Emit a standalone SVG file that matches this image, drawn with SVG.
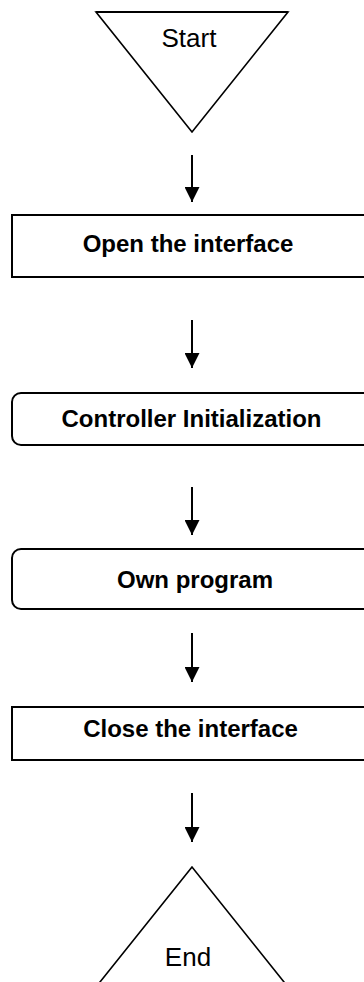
<svg xmlns="http://www.w3.org/2000/svg" width="364" height="982" viewBox="0 0 364 982">
<style>
.shape{fill:#fff;stroke:#000;stroke-width:2}
.tri{fill:#fff;stroke:#000;stroke-width:1.6}
.lbl{font-family:"Liberation Sans",Arial,sans-serif;font-size:24px;font-weight:bold;fill:#000;text-anchor:middle}
.term{font-family:"Liberation Sans",Arial,sans-serif;font-size:26px;fill:#000;text-anchor:middle}
.conn{stroke:#000;stroke-width:2;fill:none;marker-end:url(#ah)}
</style>
<defs>
<marker id="ah" markerWidth="15" markerHeight="15" refX="15" refY="7.5" orient="auto" markerUnits="userSpaceOnUse" viewBox="0 0 15 15">
<path d="M0,0 L15,7.5 L0,15 Z" fill="#000"/>
</marker>
</defs>
<rect width="364" height="982" fill="#fff"/>
<g id="start">
<polygon class="tri" points="96,12 288,12 192,132"/>
<line x1="96" y1="12" x2="288" y2="12" stroke="#000" stroke-width="2"/>
<text class="term" x="189" y="47">Start</text>
</g>
<g id="open">
<rect class="shape" x="12" y="215" width="370" height="62"/>
<text class="lbl" x="188" y="252">Open the interface</text>
</g>
<g id="init">
<rect class="shape" x="12" y="393" width="370" height="52" rx="9" ry="9"/>
<text class="lbl" x="191.5" y="427">Controller Initialization</text>
</g>
<g id="own">
<rect class="shape" x="12" y="549" width="370" height="60" rx="9" ry="9"/>
<text class="lbl" x="195" y="588">Own program</text>
</g>
<g id="close">
<rect class="shape" x="12" y="707" width="370" height="53"/>
<text class="lbl" x="190.5" y="737">Close the interface</text>
</g>
<g id="end">
<polygon class="tri" points="192,867 88,997 296,997"/>
<text class="term" x="188" y="966">End</text>
</g>
<g id="connectors">
<line class="conn" x1="192" y1="155" x2="192" y2="202"/>
<line class="conn" x1="192" y1="320" x2="192" y2="368"/>
<line class="conn" x1="192" y1="487" x2="192" y2="535"/>
<line class="conn" x1="192" y1="633" x2="192" y2="682"/>
<line class="conn" x1="192" y1="793" x2="192" y2="842"/>
</g>
</svg>
